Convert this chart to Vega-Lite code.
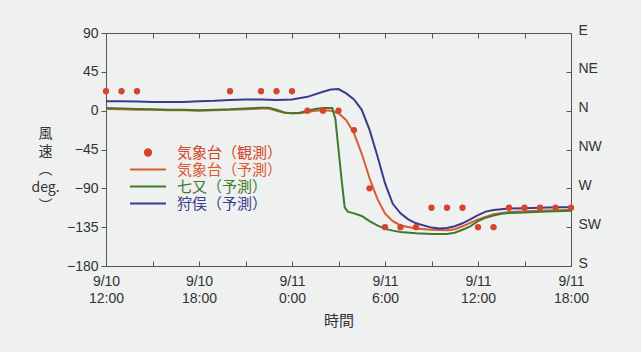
{
  "$schema": "https://vega.github.io/schema/vega-lite/v6.json",
  "width": 465,
  "height": 233,
  "autosize": {"type": "none"},
  "padding": {"left": 106, "top": 33, "right": 70, "bottom": 86},
  "background": "#eef1f0",
  "config": {
    "view": {"stroke": "#555555", "strokeWidth": 1},
    "axis": {
      "domain": false, "grid": false, "labelFlush": false,
      "labelFont": "Liberation Sans", "labelFontSize": 14, "labelColor": "#333333",
      "tickColor": "#555555", "tickWidth": 1,
      "titleFont": "Noto Sans CJK JP", "titleColor": "#333333", "titleFontWeight": "normal"
    }
  },
  "datasets": {
    "fc": [
      {"series": "気象台（予測）", "time": "2011-09-10T12:00", "deg": 2},
      {"series": "気象台（予測）", "time": "2011-09-10T13:00", "deg": 1.5},
      {"series": "気象台（予測）", "time": "2011-09-10T14:00", "deg": 1},
      {"series": "気象台（予測）", "time": "2011-09-10T15:00", "deg": 1},
      {"series": "気象台（予測）", "time": "2011-09-10T16:00", "deg": 0.5},
      {"series": "気象台（予測）", "time": "2011-09-10T17:00", "deg": 0.5},
      {"series": "気象台（予測）", "time": "2011-09-10T18:00", "deg": 0},
      {"series": "気象台（予測）", "time": "2011-09-10T19:00", "deg": 0.5},
      {"series": "気象台（予測）", "time": "2011-09-10T20:00", "deg": 1},
      {"series": "気象台（予測）", "time": "2011-09-10T21:00", "deg": 1.5},
      {"series": "気象台（予測）", "time": "2011-09-10T22:00", "deg": 2.5},
      {"series": "気象台（予測）", "time": "2011-09-10T22:30", "deg": 2.5},
      {"series": "気象台（予測）", "time": "2011-09-10T23:00", "deg": 0},
      {"series": "気象台（予測）", "time": "2011-09-10T23:30", "deg": -2.5},
      {"series": "気象台（予測）", "time": "2011-09-11T00:00", "deg": -3},
      {"series": "気象台（予測）", "time": "2011-09-11T00:30", "deg": -3},
      {"series": "気象台（予測）", "time": "2011-09-11T01:00", "deg": -1.5},
      {"series": "気象台（予測）", "time": "2011-09-11T01:30", "deg": 0},
      {"series": "気象台（予測）", "time": "2011-09-11T02:00", "deg": 0.5},
      {"series": "気象台（予測）", "time": "2011-09-11T02:30", "deg": 0},
      {"series": "気象台（予測）", "time": "2011-09-11T03:00", "deg": -3},
      {"series": "気象台（予測）", "time": "2011-09-11T03:30", "deg": -11},
      {"series": "気象台（予測）", "time": "2011-09-11T04:00", "deg": -26},
      {"series": "気象台（予測）", "time": "2011-09-11T04:30", "deg": -50},
      {"series": "気象台（予測）", "time": "2011-09-11T05:00", "deg": -78},
      {"series": "気象台（予測）", "time": "2011-09-11T05:30", "deg": -102},
      {"series": "気象台（予測）", "time": "2011-09-11T06:00", "deg": -119},
      {"series": "気象台（予測）", "time": "2011-09-11T06:30", "deg": -128},
      {"series": "気象台（予測）", "time": "2011-09-11T07:00", "deg": -133},
      {"series": "気象台（予測）", "time": "2011-09-11T08:00", "deg": -136.5},
      {"series": "気象台（予測）", "time": "2011-09-11T09:00", "deg": -138},
      {"series": "気象台（予測）", "time": "2011-09-11T10:00", "deg": -138.5},
      {"series": "気象台（予測）", "time": "2011-09-11T10:30", "deg": -137.5},
      {"series": "気象台（予測）", "time": "2011-09-11T11:00", "deg": -134},
      {"series": "気象台（予測）", "time": "2011-09-11T11:30", "deg": -130},
      {"series": "気象台（予測）", "time": "2011-09-11T12:00", "deg": -126},
      {"series": "気象台（予測）", "time": "2011-09-11T13:00", "deg": -120},
      {"series": "気象台（予測）", "time": "2011-09-11T14:00", "deg": -117.5},
      {"series": "気象台（予測）", "time": "2011-09-11T15:00", "deg": -116.5},
      {"series": "気象台（予測）", "time": "2011-09-11T16:00", "deg": -116},
      {"series": "気象台（予測）", "time": "2011-09-11T17:00", "deg": -115.5},
      {"series": "気象台（予測）", "time": "2011-09-11T18:00", "deg": -115},

      {"series": "七又（予測）", "time": "2011-09-10T12:00", "deg": 3},
      {"series": "七又（予測）", "time": "2011-09-10T13:00", "deg": 2.5},
      {"series": "七又（予測）", "time": "2011-09-10T14:00", "deg": 2},
      {"series": "七又（予測）", "time": "2011-09-10T15:00", "deg": 1.5},
      {"series": "七又（予測）", "time": "2011-09-10T16:00", "deg": 1},
      {"series": "七又（予測）", "time": "2011-09-10T17:00", "deg": 1},
      {"series": "七又（予測）", "time": "2011-09-10T18:00", "deg": 0.5},
      {"series": "七又（予測）", "time": "2011-09-10T19:00", "deg": 1},
      {"series": "七又（予測）", "time": "2011-09-10T20:00", "deg": 1.5},
      {"series": "七又（予測）", "time": "2011-09-10T21:00", "deg": 2.5},
      {"series": "七又（予測）", "time": "2011-09-10T22:00", "deg": 3.5},
      {"series": "七又（予測）", "time": "2011-09-10T22:30", "deg": 3.5},
      {"series": "七又（予測）", "time": "2011-09-10T23:00", "deg": 1},
      {"series": "七又（予測）", "time": "2011-09-10T23:30", "deg": -2},
      {"series": "七又（予測）", "time": "2011-09-11T00:00", "deg": -3},
      {"series": "七又（予測）", "time": "2011-09-11T00:30", "deg": -2.5},
      {"series": "七又（予測）", "time": "2011-09-11T01:00", "deg": 0},
      {"series": "七又（予測）", "time": "2011-09-11T01:30", "deg": 2},
      {"series": "七又（予測）", "time": "2011-09-11T02:00", "deg": 3},
      {"series": "七又（予測）", "time": "2011-09-11T02:36", "deg": 3},
      {"series": "七又（予測）", "time": "2011-09-11T02:48", "deg": -10},
      {"series": "七又（予測）", "time": "2011-09-11T03:00", "deg": -45},
      {"series": "七又（予測）", "time": "2011-09-11T03:12", "deg": -80},
      {"series": "七又（予測）", "time": "2011-09-11T03:24", "deg": -112},
      {"series": "七又（予測）", "time": "2011-09-11T03:36", "deg": -117},
      {"series": "七又（予測）", "time": "2011-09-11T04:00", "deg": -119},
      {"series": "七又（予測）", "time": "2011-09-11T04:30", "deg": -122},
      {"series": "七又（予測）", "time": "2011-09-11T05:00", "deg": -128},
      {"series": "七又（予測）", "time": "2011-09-11T05:30", "deg": -133},
      {"series": "七又（予測）", "time": "2011-09-11T06:00", "deg": -137},
      {"series": "七又（予測）", "time": "2011-09-11T06:30", "deg": -139},
      {"series": "七又（予測）", "time": "2011-09-11T07:00", "deg": -140.5},
      {"series": "七又（予測）", "time": "2011-09-11T08:00", "deg": -142},
      {"series": "七又（予測）", "time": "2011-09-11T09:00", "deg": -143},
      {"series": "七又（予測）", "time": "2011-09-11T10:00", "deg": -143},
      {"series": "七又（予測）", "time": "2011-09-11T10:30", "deg": -141.5},
      {"series": "七又（予測）", "time": "2011-09-11T11:00", "deg": -138},
      {"series": "七又（予測）", "time": "2011-09-11T11:30", "deg": -134},
      {"series": "七又（予測）", "time": "2011-09-11T12:00", "deg": -128},
      {"series": "七又（予測）", "time": "2011-09-11T12:30", "deg": -124},
      {"series": "七又（予測）", "time": "2011-09-11T13:00", "deg": -121.5},
      {"series": "七又（予測）", "time": "2011-09-11T13:30", "deg": -119.5},
      {"series": "七又（予測）", "time": "2011-09-11T14:00", "deg": -118.5},
      {"series": "七又（予測）", "time": "2011-09-11T15:00", "deg": -118},
      {"series": "七又（予測）", "time": "2011-09-11T16:00", "deg": -117},
      {"series": "七又（予測）", "time": "2011-09-11T17:00", "deg": -116.5},
      {"series": "七又（予測）", "time": "2011-09-11T18:00", "deg": -116},

      {"series": "狩俣（予測）", "time": "2011-09-10T12:00", "deg": 11},
      {"series": "狩俣（予測）", "time": "2011-09-10T13:00", "deg": 11},
      {"series": "狩俣（予測）", "time": "2011-09-10T14:00", "deg": 10.5},
      {"series": "狩俣（予測）", "time": "2011-09-10T15:00", "deg": 10},
      {"series": "狩俣（予測）", "time": "2011-09-10T16:00", "deg": 10},
      {"series": "狩俣（予測）", "time": "2011-09-10T17:00", "deg": 10},
      {"series": "狩俣（予測）", "time": "2011-09-10T18:00", "deg": 11},
      {"series": "狩俣（予測）", "time": "2011-09-10T19:00", "deg": 11.5},
      {"series": "狩俣（予測）", "time": "2011-09-10T20:00", "deg": 12.5},
      {"series": "狩俣（予測）", "time": "2011-09-10T21:00", "deg": 13},
      {"series": "狩俣（予測）", "time": "2011-09-10T22:00", "deg": 13},
      {"series": "狩俣（予測）", "time": "2011-09-10T23:00", "deg": 12.5},
      {"series": "狩俣（予測）", "time": "2011-09-11T00:00", "deg": 13},
      {"series": "狩俣（予測）", "time": "2011-09-11T01:00", "deg": 16},
      {"series": "狩俣（予測）", "time": "2011-09-11T02:00", "deg": 22},
      {"series": "狩俣（予測）", "time": "2011-09-11T02:30", "deg": 24.5},
      {"series": "狩俣（予測）", "time": "2011-09-11T03:00", "deg": 25},
      {"series": "狩俣（予測）", "time": "2011-09-11T03:30", "deg": 20},
      {"series": "狩俣（予測）", "time": "2011-09-11T04:00", "deg": 13},
      {"series": "狩俣（予測）", "time": "2011-09-11T04:30", "deg": 1},
      {"series": "狩俣（予測）", "time": "2011-09-11T05:00", "deg": -22},
      {"series": "狩俣（予測）", "time": "2011-09-11T05:30", "deg": -52},
      {"series": "狩俣（予測）", "time": "2011-09-11T06:00", "deg": -84},
      {"series": "狩俣（予測）", "time": "2011-09-11T06:30", "deg": -108},
      {"series": "狩俣（予測）", "time": "2011-09-11T07:00", "deg": -119},
      {"series": "狩俣（予測）", "time": "2011-09-11T07:30", "deg": -126},
      {"series": "狩俣（予測）", "time": "2011-09-11T08:00", "deg": -130.5},
      {"series": "狩俣（予測）", "time": "2011-09-11T09:00", "deg": -135.5},
      {"series": "狩俣（予測）", "time": "2011-09-11T09:30", "deg": -136.5},
      {"series": "狩俣（予測）", "time": "2011-09-11T10:00", "deg": -136},
      {"series": "狩俣（予測）", "time": "2011-09-11T10:30", "deg": -134},
      {"series": "狩俣（予測）", "time": "2011-09-11T11:00", "deg": -130.5},
      {"series": "狩俣（予測）", "time": "2011-09-11T11:30", "deg": -126},
      {"series": "狩俣（予測）", "time": "2011-09-11T12:00", "deg": -121},
      {"series": "狩俣（予測）", "time": "2011-09-11T12:30", "deg": -117},
      {"series": "狩俣（予測）", "time": "2011-09-11T13:00", "deg": -115},
      {"series": "狩俣（予測）", "time": "2011-09-11T14:00", "deg": -113.5},
      {"series": "狩俣（予測）", "time": "2011-09-11T15:00", "deg": -113},
      {"series": "狩俣（予測）", "time": "2011-09-11T16:00", "deg": -112.5},
      {"series": "狩俣（予測）", "time": "2011-09-11T17:00", "deg": -112},
      {"series": "狩俣（予測）", "time": "2011-09-11T18:00", "deg": -112}
    ],
    "obs": [
      {"series": "気象台（観測）", "time": "2011-09-10T12:00", "deg": 22.5},
      {"series": "気象台（観測）", "time": "2011-09-10T13:00", "deg": 22.5},
      {"series": "気象台（観測）", "time": "2011-09-10T14:00", "deg": 22.5},
      {"series": "気象台（観測）", "time": "2011-09-10T20:00", "deg": 22.5},
      {"series": "気象台（観測）", "time": "2011-09-10T22:00", "deg": 22.5},
      {"series": "気象台（観測）", "time": "2011-09-10T23:00", "deg": 22.5},
      {"series": "気象台（観測）", "time": "2011-09-11T00:00", "deg": 22.5},
      {"series": "気象台（観測）", "time": "2011-09-11T01:00", "deg": 0},
      {"series": "気象台（観測）", "time": "2011-09-11T02:00", "deg": 0},
      {"series": "気象台（観測）", "time": "2011-09-11T03:00", "deg": 0},
      {"series": "気象台（観測）", "time": "2011-09-11T04:00", "deg": -22.5},
      {"series": "気象台（観測）", "time": "2011-09-11T05:00", "deg": -90},
      {"series": "気象台（観測）", "time": "2011-09-11T06:00", "deg": -135},
      {"series": "気象台（観測）", "time": "2011-09-11T07:00", "deg": -135},
      {"series": "気象台（観測）", "time": "2011-09-11T08:00", "deg": -135},
      {"series": "気象台（観測）", "time": "2011-09-11T09:00", "deg": -112.5},
      {"series": "気象台（観測）", "time": "2011-09-11T10:00", "deg": -112.5},
      {"series": "気象台（観測）", "time": "2011-09-11T11:00", "deg": -112.5},
      {"series": "気象台（観測）", "time": "2011-09-11T12:00", "deg": -135},
      {"series": "気象台（観測）", "time": "2011-09-11T13:00", "deg": -135},
      {"series": "気象台（観測）", "time": "2011-09-11T14:00", "deg": -112.5},
      {"series": "気象台（観測）", "time": "2011-09-11T15:00", "deg": -112.5},
      {"series": "気象台（観測）", "time": "2011-09-11T16:00", "deg": -112.5},
      {"series": "気象台（観測）", "time": "2011-09-11T17:00", "deg": -112.5},
      {"series": "気象台（観測）", "time": "2011-09-11T18:00", "deg": -112.5}
    ]
  },
  "layer": [
    {
      "data": {"name": "fc"},
      "mark": {"type": "line", "strokeWidth": 2},
      "encoding": {
        "x": {
          "field": "time", "type": "temporal",
          "scale": {"domain": [{"year": 2011, "month": 9, "date": 10, "hours": 12}, {"year": 2011, "month": 9, "date": 11, "hours": 18}]},
          "axis": {
            "orient": "bottom",
            "values": [
              {"year": 2011, "month": 9, "date": 10, "hours": 12},
              {"year": 2011, "month": 9, "date": 10, "hours": 15},
              {"year": 2011, "month": 9, "date": 10, "hours": 18},
              {"year": 2011, "month": 9, "date": 10, "hours": 21},
              {"year": 2011, "month": 9, "date": 11, "hours": 0},
              {"year": 2011, "month": 9, "date": 11, "hours": 3},
              {"year": 2011, "month": 9, "date": 11, "hours": 6},
              {"year": 2011, "month": 9, "date": 11, "hours": 9},
              {"year": 2011, "month": 9, "date": 11, "hours": 12},
              {"year": 2011, "month": 9, "date": 11, "hours": 15},
              {"year": 2011, "month": 9, "date": 11, "hours": 18}
            ],
            "tickSize": -5,
            "labelPadding": 13,
            "labelBaseline": "top",
            "labelAlign": "center",
            "labelLineHeight": 17,
            "labelExpr": "hours(datum.value) % 6 == 0 ? [timeFormat(datum.value, '%-m/%-d'), timeFormat(datum.value, '%-H:%M')] : ''",
            "title": "時間",
            "titleFontSize": 15,
            "titlePadding": 8
          }
        },
        "y": {
          "field": "deg", "type": "quantitative",
          "scale": {"domain": [-180, 90], "nice": false, "zero": false},
          "axis": {
            "orient": "left",
            "values": [-180, -135, -90, -45, 0, 45, 90],
            "tickSize": 5,
            "labelPadding": 3,
            "title": ["風", "速", "︵", "deg.", "︶"],
            "titleAngle": 0,
            "titleAlign": "center",
            "titleBaseline": "top",
            "titleX": -61,
            "titleY": 93,
            "titleFontSize": 14,
            "titleLineHeight": 18
          }
        },
        "color": {
          "field": "series", "type": "nominal",
          "scale": {
            "domain": ["気象台（観測）", "気象台（予測）", "七又（予測）", "狩俣（予測）"],
            "range": ["#d4452b", "#da5b34", "#3f7a2c", "#3b3b8e"]
          },
          "legend": {
            "title": null,
            "orient": "none",
            "legendX": 23,
            "legendY": 111,
            "padding": 0,
            "rowPadding": 0,
            "clipHeight": 17,
            "symbolType": "stroke",
            "symbolSize": 1296,
            "symbolStrokeWidth": 2,
            "labelFont": "Noto Sans CJK JP",
            "labelFontSize": 15,
            "labelOffset": 10,
            "encode": {
              "symbols": {
                "update": {
                  "shape": {"signal": "datum.value === '気象台（観測）' ? 'circle' : 'stroke'"},
                  "size": {"signal": "datum.value === '気象台（観測）' ? 40 : 1296"},
                  "fill": {"signal": "datum.value === '気象台（観測）' ? scale('color', datum.value) : 'transparent'"},
                  "stroke": {"signal": "datum.value === '気象台（観測）' ? 'transparent' : scale('color', datum.value)"},
                  "strokeWidth": {"value": 2},
                  "opacity": {"value": 1}
                }
              },
              "labels": {
                "update": {"fill": {"signal": "scale('color', datum.value)"}}
              }
            }
          }
        }
      }
    },
    {
      "data": {"name": "obs"},
      "mark": {"type": "circle", "size": 40, "opacity": 1},
      "encoding": {
        "x": {
          "field": "time", "type": "temporal",
          "axis": {
            "orient": "top",
            "values": [
              {"year": 2011, "month": 9, "date": 10, "hours": 12},
              {"year": 2011, "month": 9, "date": 10, "hours": 15},
              {"year": 2011, "month": 9, "date": 10, "hours": 18},
              {"year": 2011, "month": 9, "date": 10, "hours": 21},
              {"year": 2011, "month": 9, "date": 11, "hours": 0},
              {"year": 2011, "month": 9, "date": 11, "hours": 3},
              {"year": 2011, "month": 9, "date": 11, "hours": 6},
              {"year": 2011, "month": 9, "date": 11, "hours": 9},
              {"year": 2011, "month": 9, "date": 11, "hours": 12},
              {"year": 2011, "month": 9, "date": 11, "hours": 15},
              {"year": 2011, "month": 9, "date": 11, "hours": 18}
            ],
            "tickSize": -5,
            "labels": false,
            "title": null
          }
        },
        "y": {
          "field": "deg", "type": "quantitative",
          "axis": {
            "orient": "right",
            "values": [-180, -135, -90, -45, 0, 45, 90],
            "tickSize": -5,
            "labelPadding": 12,
            "labelOffset": -3,
            "labelExpr": "datum.value == 90 ? 'E' : datum.value == 45 ? 'NE' : datum.value == 0 ? 'N' : datum.value == -45 ? 'NW' : datum.value == -90 ? 'W' : datum.value == -135 ? 'SW' : 'S'",
            "title": null
          }
        },
        "color": {"field": "series", "type": "nominal"}
      }
    }
  ],
  "resolve": {"axis": {"x": "independent", "y": "independent"}}
}
